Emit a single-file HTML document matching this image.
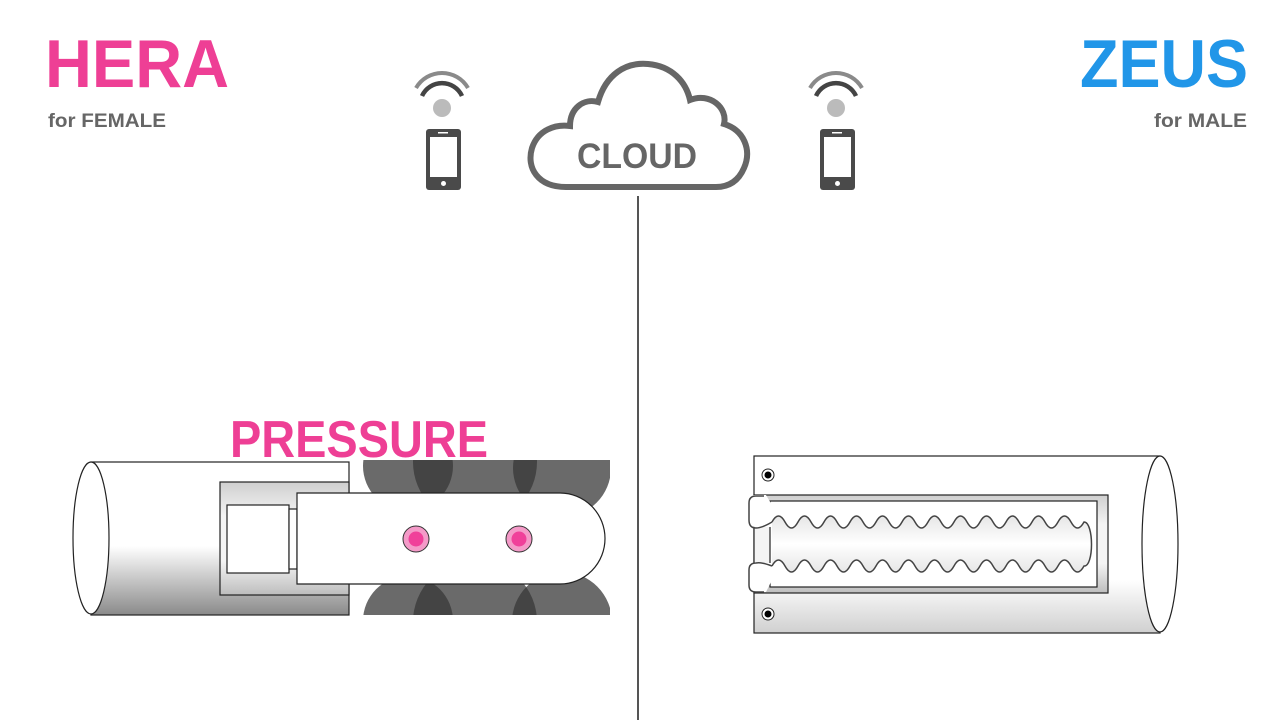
<!DOCTYPE html>
<html><head><meta charset="utf-8"><style>
html,body{margin:0;padding:0;background:#fff;width:1280px;height:720px;overflow:hidden}
svg{display:block}
text{font-family:"Liberation Sans","DejaVu Sans",sans-serif;font-weight:bold}
</style></head><body>
<svg width="1280" height="720" viewBox="0 0 1280 720" xmlns="http://www.w3.org/2000/svg">
<defs>
<linearGradient id="cyl" x1="0" y1="0" x2="0" y2="1">
<stop offset="0" stop-color="#fff"/><stop offset="0.55" stop-color="#fff"/><stop offset="1" stop-color="#8a8a8a"/>
</linearGradient>
<linearGradient id="cyl2" x1="0" y1="0" x2="0" y2="1">
<stop offset="0" stop-color="#fff"/><stop offset="0.7" stop-color="#fff"/><stop offset="1" stop-color="#d0d0d0"/>
</linearGradient>
<linearGradient id="inner" x1="0" y1="0" x2="0" y2="1">
<stop offset="0" stop-color="#cfcfcf"/><stop offset="0.3" stop-color="#f4f4f4"/><stop offset="0.7" stop-color="#f4f4f4"/><stop offset="1" stop-color="#bdbdbd"/>
</linearGradient>
<linearGradient id="tube" x1="0" y1="0" x2="0" y2="1">
<stop offset="0" stop-color="#e6e6e6"/><stop offset="0.5" stop-color="#fff"/><stop offset="1" stop-color="#e6e6e6"/>
</linearGradient>
<clipPath id="topc"><rect x="363" y="460" width="247" height="80"/></clipPath>
<clipPath id="botc"><rect x="363" y="540" width="247" height="75"/></clipPath>
</defs>

<!-- titles -->
<text x="45" y="87" font-size="68" fill="#ee3f95" textLength="184" lengthAdjust="spacingAndGlyphs">HERA</text>
<text x="48" y="127" font-size="19" fill="#666" textLength="118" lengthAdjust="spacingAndGlyphs">for FEMALE</text>
<text x="1080" y="87" font-size="68" fill="#2196e8" textLength="168" lengthAdjust="spacingAndGlyphs">ZEUS</text>
<text x="1154" y="127" font-size="19" fill="#666" textLength="93" lengthAdjust="spacingAndGlyphs">for MALE</text>

<!-- phones -->
<g id="ph">
<path d="M416,88 A30,30 0 0 1 468,88" fill="none" stroke="#8a8a8a" stroke-width="4"/>
<path d="M422,96 A22,22 0 0 1 462,96" fill="none" stroke="#444" stroke-width="4.5"/>
<circle cx="442" cy="108" r="9" fill="#bbb"/>
<rect x="426" y="129" width="35" height="61" rx="3" fill="#4a4a4a"/>
<rect x="430" y="137" width="27" height="40" fill="#fff"/>
<rect x="438" y="132" width="10" height="1.5" fill="#fff"/>
<circle cx="443.5" cy="183.5" r="2.5" fill="#fff"/>
</g>
<use href="#ph" transform="translate(394,0)"/>

<!-- cloud -->
<path d="M566,187 C538,187 526,168 532,148 C538,130 555,124 570,126 C570,108 584,98 598,102 C606,74 626,62 648,64 C672,66 686,82 690,100 C710,92 728,108 724,124 C744,130 752,150 744,168 C738,182 728,187 716,187 Z" fill="#fff" stroke="#666" stroke-width="6"/>
<text x="637" y="168" font-size="35" fill="#666" text-anchor="middle" textLength="120" lengthAdjust="spacingAndGlyphs">CLOUD</text>

<line x1="638" y1="196" x2="638" y2="720" stroke="#555" stroke-width="2"/>

<!-- left device -->
<text x="230" y="457" font-size="52" fill="#ee3f95" textLength="258" lengthAdjust="spacingAndGlyphs">PRESSURE</text>
<rect x="91" y="462" width="258" height="153" fill="url(#cyl)" stroke="#222" stroke-width="1.2"/>
<ellipse cx="91" cy="538" rx="18" ry="76" fill="#fff" stroke="#222" stroke-width="1.2"/>
<rect x="220" y="482" width="129" height="113" fill="url(#inner)" stroke="#222" stroke-width="1.2"/>
<g fill="#383838" fill-opacity="0.75" clip-path="url(#topc)">
<circle cx="408" cy="466" r="45"/><circle cx="475" cy="462" r="62"/><circle cx="562" cy="468" r="49"/>
</g>
<g fill="#383838" fill-opacity="0.75" clip-path="url(#botc)">
<circle cx="408" cy="621" r="45"/><circle cx="475" cy="622" r="62"/><circle cx="562" cy="622" r="50"/>
</g>
<rect x="227" y="505" width="62" height="68" fill="#fff" stroke="#222" stroke-width="1.2"/>
<rect x="289" y="509" width="8" height="60" fill="#fff" stroke="#222" stroke-width="1.2"/>
<path d="M297,493 H560 A45,45.5 0 0 1 560,584 H297 Z" fill="#fff" stroke="#222" stroke-width="1.2"/>
<g stroke="#333" stroke-width="1">
<circle cx="416" cy="539" r="13" fill="#f49ac8"/><circle cx="416" cy="539" r="7.5" fill="#f0409a" stroke="none"/>
<circle cx="519" cy="539" r="13" fill="#f49ac8"/><circle cx="519" cy="539" r="7.5" fill="#f0409a" stroke="none"/>
</g>

<!-- right device -->
<rect x="754" y="456" width="406" height="177" fill="url(#cyl2)" stroke="#222" stroke-width="1.2"/>
<ellipse cx="1160" cy="544" rx="18" ry="88" fill="#fff" stroke="#222" stroke-width="1.2"/>
<rect x="754" y="495" width="354" height="98" fill="url(#inner)" stroke="#222" stroke-width="1.2"/>
<rect x="770" y="501" width="327" height="86" fill="#fff" stroke="#222" stroke-width="1.2"/>
<path d="M749,500 Q749,495 755,495 H766 L772,505 V580 L766,592 H755 Q749,592 749,586 V570 Q749,564 756,563 H772 V527 H756 Q749,527 749,520 Z" fill="#fff" stroke="none"/>
<path d="M772,522 q6.5,-12 13,0 t13,0 t13,0 t13,0 t13,0 t13,0 t13,0 t13,0 t13,0 t13,0 t13,0 t13,0 t13,0 t13,0 t13,0 t13,0 t13,0 t13,0 t13,0 t13,0 t13,0 t13,0 t13,0 t13,0 C1094,522 1094,567 1084,566 q-6.5,12 -13,0 t-13,0 t-13,0 t-13,0 t-13,0 t-13,0 t-13,0 t-13,0 t-13,0 t-13,0 t-13,0 t-13,0 t-13,0 t-13,0 t-13,0 t-13,0 t-13,0 t-13,0 t-13,0 t-13,0 t-13,0 t-13,0 t-13,0 t-13,0" fill="url(#tube)" stroke="#444" stroke-width="1.5"/>
<path d="M772,522 Q762,528 756,528 Q749,528 749,520 V503 Q749,496 756,496 H764" fill="none" stroke="#444" stroke-width="1.5"/>
<path d="M772,566 Q762,562 756,563 Q749,563 749,570 V585 Q749,592 756,592 H764" fill="none" stroke="#444" stroke-width="1.5"/>
<circle cx="768" cy="475" r="6" fill="#fff" stroke="#222" stroke-width="1"/><circle cx="768" cy="475" r="3.5" fill="#000"/>
<circle cx="768" cy="614" r="6" fill="#fff" stroke="#222" stroke-width="1"/><circle cx="768" cy="614" r="3.5" fill="#000"/>
</svg>
</body></html>
